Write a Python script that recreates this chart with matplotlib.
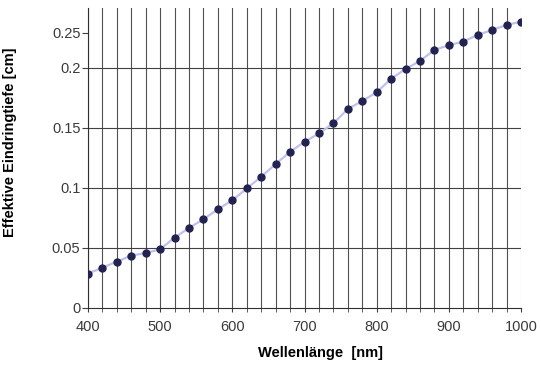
import matplotlib.pyplot as plt
import numpy as np

# wavelength in nm and effective penetration depth in cm
wavelength = [400, 420, 440, 460, 480, 500, 520, 540, 560, 580,
              600, 620, 640, 660, 680, 700, 720, 740, 760, 780,
              800, 820, 840, 860, 880, 900, 920, 940, 960, 980, 1000]
depth = [0.0286, 0.0336, 0.0386, 0.0436, 0.0458, 0.0488, 0.0586, 0.0666, 0.0739, 0.0822,
         0.0897, 0.0995, 0.1092, 0.1198, 0.1300, 0.1383, 0.1453, 0.1537, 0.1656, 0.1723,
         0.1795, 0.1908, 0.1989, 0.2056, 0.2148, 0.2187, 0.2217, 0.2273, 0.2314, 0.2356, 0.2383]

x_labels = [400, 500, 600, 700, 800, 900, 1000]
y_grid = [0, 0.05, 0.1, 0.15, 0.2]
# the top label sits lower than its value in the original chart
y_ticks = [0, 0.05, 0.1, 0.15, 0.2, 0.229]
y_labels = ['0', '0.05', '0.1', '0.15', '0.2', '0.25']

plt.rcParams['font.family'] = ['Liberation Sans', 'DejaVu Sans']

fig = plt.figure(figsize=(5.41, 3.65), dpi=100)
ax = fig.add_axes([0.1627, 0.1562, 0.8003, 0.8219])

# vertical grid every 20 nm
for xv in wavelength:
    col = '#b8b8b8' if xv == 1000 else '#505050'
    ax.axvline(xv, color=col, lw=0.8, zorder=1)
for yv in y_grid[1:]:
    ax.axhline(yv, color='#404040', lw=0.8, zorder=1)

ax.plot(wavelength, depth, color='#c0c0ec', lw=1.6, zorder=2)
ax.plot(wavelength, depth, ls='none', marker='o', ms=5,
        color='#23234f', zorder=3)

ax.set_xlim(400, 1000)
ax.set_ylim(0, 0.2497)
ax.set_xticks(x_labels)
ax.set_xticks(wavelength, minor=True)
ax.set_yticks(y_ticks)
ax.set_yticklabels(y_labels)

for s in ['top', 'right']:
    ax.spines[s].set_visible(False)
ax.spines['left'].set_color('#303030')
ax.spines['bottom'].set_color('#303030')

ax.tick_params(axis='x', which='both', length=3, color='#404040',
               labelsize=10.5, labelcolor='#3a3a3a', pad=6)
ax.tick_params(axis='y', length=4, color='#404040',
               labelsize=10.5, labelcolor='#3a3a3a', pad=1.5)

ax.set_xlabel('Wellenlänge  [nm]', fontsize=10.5, fontweight='bold')
ax.set_ylabel('Effektive Eindringtiefe [cm]', fontsize=10.5, fontweight='bold')
ax.xaxis.set_label_coords(0.536, -0.128)
ax.yaxis.set_label_coords(-0.163, 0.553)

fig.savefig('out.png', dpi=100)
